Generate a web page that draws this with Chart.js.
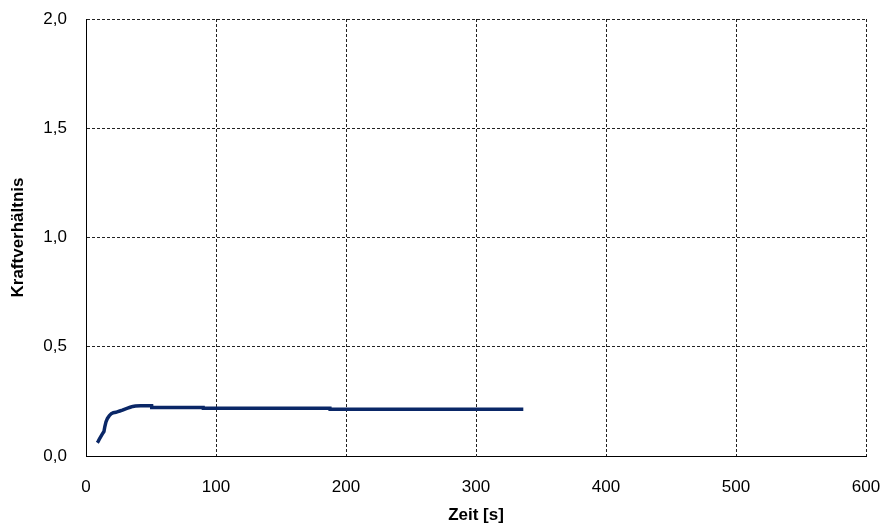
<!DOCTYPE html>
<html>
<head>
<meta charset="utf-8">
<script src="https://cdn.jsdelivr.net/npm/chart.js@4/dist/chart.umd.min.js"></script>
<style>
  html, body { margin: 0; padding: 0; background: #ffffff; }
  #wrap { width: 887px; height: 529px; position: relative; }
</style>
</head>
<body>
<div id="wrap"><canvas id="c" width="887" height="529"></canvas></div>
<script>
// Messreihe: Zeit in Sekunden und zugehöriges Kraftverhältnis
const zeitWerte = [
  8.7, 9.5, 10.5, 11.5, 12.5, 13.8, 14.5, 15.4, 16.5, 18.0, 19.5, 21.0,
  23.0, 24.5, 26.0, 28.0, 30.0, 32.0, 34.0, 36.0, 38.0, 42.0, 46.0, 50.5,
  50.6, 70.0, 90.2, 90.3, 130.0, 187.7, 187.8, 250.0, 336.4
];
const kraftverhaeltnis = [
  0.061, 0.068, 0.080, 0.090, 0.100, 0.112, 0.135, 0.157, 0.172, 0.185, 0.194, 0.198,
  0.200, 0.203, 0.206, 0.210, 0.215, 0.219, 0.223, 0.227, 0.229, 0.230, 0.230, 0.230,
  0.222, 0.222, 0.222, 0.218, 0.218, 0.218, 0.214, 0.214, 0.214
];
const xTicks = [0, 100, 200, 300, 400, 500, 600];
const yTicks = [0.0, 0.5, 1.0, 1.5, 2.0];

const punkte = zeitWerte.map((t, i) => ({ x: t, y: kraftverhaeltnis[i] }));
const FONT = "'Liberation Sans', Arial, sans-serif";

new Chart(document.getElementById('c'), {
  type: 'scatter',
  data: {
    datasets: [{
      data: punkte,
      showLine: true,
      borderColor: '#0a2767',
      backgroundColor: '#0a2767',
      borderWidth: 3.5,
      pointRadius: 0,
      tension: 0
    }]
  },
  options: {
    responsive: false,
    animation: false,
    devicePixelRatio: 1,
    layout: { padding: { left: 0, right: 21, top: 19, bottom: 0 } },
    plugins: {
      legend: { display: false },
      tooltip: { enabled: false }
    },
    scales: {
      x: {
        type: 'linear',
        min: xTicks[0],
        max: xTicks[xTicks.length - 1],
        afterBuildTicks: s => { s.ticks = xTicks.map(v => ({ value: v })); },
        afterFit: s => { s.height = 73; s.paddingLeft = 0; s.paddingRight = 0; },
        ticks: {
          color: '#000',
          font: { family: FONT, size: 17 },
          padding: 21,
          maxRotation: 0,
          autoSkip: false,
          callback: v => String(v)
        },
        grid: { color: '#222', lineWidth: 1, drawTicks: false },
        border: { display: true, color: '#000', width: 1, dash: [3, 2] },
        title: {
          display: true,
          text: 'Zeit [s]',
          color: '#000',
          font: { family: FONT, size: 17, weight: 'bold' },
          padding: { top: 0, bottom: 3 }
        }
      },
      y: {
        type: 'linear',
        min: yTicks[0],
        max: yTicks[yTicks.length - 1],
        afterBuildTicks: s => { s.ticks = yTicks.map(v => ({ value: v })); },
        afterFit: s => { s.width = 86; s.paddingTop = 0; s.paddingBottom = 0; },
        ticks: {
          color: '#000',
          font: { family: FONT, size: 17 },
          padding: 19,
          autoSkip: false,
          callback: v => v.toFixed(1).replace('.', ',')
        },
        grid: { color: '#222', lineWidth: 1, drawTicks: false },
        border: { display: true, color: '#000', width: 1, dash: [3, 2] },
        title: {
          display: true,
          text: 'Kraftverhältnis',
          color: '#000',
          font: { family: FONT, size: 17, weight: 'bold' },
          padding: { top: 8, bottom: 0 }
        }
      }
    }
  }
});
</script>
</body>
</html>
